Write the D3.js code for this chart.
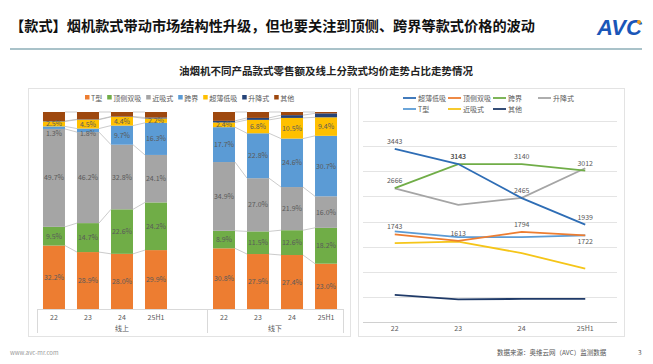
<!DOCTYPE html>
<html><head><meta charset="utf-8">
<script src="https://cdnjs.cloudflare.com/ajax/libs/d3/7.8.5/d3.min.js"></script>
<style>
body{margin:0;background:#fff;}
svg{display:block;font-family:"Noto Sans CJK SC","Noto Sans",sans-serif;}
</style></head><body>
<svg id="chart" width="653" height="364"></svg>
<script>
// categories
const years = ["22","23","24","25H1"];
const channels = ["线上","线下"];
const styles = ["T型","顶侧双吸","近吸式","跨界","超薄低吸","升降式","其他"];

// 零售额占比 (%) : 线上 22..25H1, then 线下 22..25H1
const shareT       = [32.2,28.9,28.0,29.9, 30.8,27.9,27.4,23.0];
const shareTopSide = [9.5,14.7,22.6,24.2, 8.9,11.5,12.6,18.2];
const shareNear    = [49.7,46.2,32.8,24.1, 34.9,27.0,21.9,16.0];
const shareCross   = [1.3,1.8,9.7,16.3, 17.7,22.8,24.6,30.7];
const shareThin    = [2.5,4.5,4.4,2.2, 2.4,6.8,10.5,9.4];
const shareLift    = [0.2,0.2,0.2,0.5, 0.8,1.0,1.4,2.0];
const shareOther   = [4.6,3.7,2.3,2.8, 4.5,3.0,1.6,0.7];

// 线上分款式均价 (元)
const priceThin    = [3443,3143,2465,1939];
const priceTopSide = [1743,1613,1794,1722];
const priceCross   = [2666,3143,3140,3012];
const priceLift    = [2660,2330,2470,3060];
const priceT       = [1805,1688,1690,1725];
const priceNear    = [1569,1600,1371,1062];
const priceOther   = [540,450,460,460];

const barColors = ["#ED7D31","#70AD47","#A5A5A5","#5B9BD5","#FFC000","#264478","#9E480E"];

const svg = d3.select("#chart");
const txt = "#595959";

// ---------- header ----------
svg.append("text").attr("x",10).attr("y",31)
  .attr("font-size",14.2).attr("font-weight","bold").attr("fill","#111")
  .text("【款式】烟机款式带动市场结构性升级，但也要关注到顶侧、跨界等款式价格的波动");
svg.append("text").attr("x",597).attr("y",35)
  .attr("font-size",22).attr("font-weight","bold").attr("font-style","italic")
  .attr("fill","#1A56B8").attr("font-family","Liberation Sans, sans-serif").text("AVC");
svg.append("circle").attr("cx",639).attr("cy",22).attr("r",2).attr("fill","#F2A01B");
svg.append("line").attr("x1",10).attr("x2",642).attr("y1",49).attr("y2",49)
  .attr("stroke","#A9C2C9").attr("stroke-width",2);
svg.append("text").attr("x",326).attr("y",75).attr("text-anchor","middle")
  .attr("font-size",10.5).attr("font-weight","bold").attr("fill","#222")
  .text("油烟机不同产品款式零售额及线上分款式均价走势占比走势情况");

// panel frames
svg.append("rect").attr("x",28.5).attr("y",88.5).attr("width",322).attr("height",248)
  .attr("fill","none").attr("stroke","#E3E3E3");
svg.append("rect").attr("x",358.5).attr("y",88.5).attr("width",266).attr("height",248)
  .attr("fill","none").attr("stroke","#E3E3E3");

// ---------- left: stacked bars ----------
const shares = [shareT,shareTopSide,shareNear,shareCross,shareThin,shareLift,shareOther];
const slots = [];
channels.forEach((c,ci) => {
  years.forEach(y => slots.push(c + "|" + y));
  if (ci === 0) slots.push(c + "|gap");
});
const barKeys = slots.filter(s => !s.endsWith("gap"));
const rows = barKeys.map((k,i) => {
  const r = {key:k};
  styles.forEach((s,si) => r[s] = shares[si][i]);
  return r;
});
const stacked = d3.stack().keys(styles)(rows);

const xb = d3.scaleBand().domain(slots).range([37,343]).paddingInner(0.353).paddingOuter(0.176);
const yb = d3.scaleLinear().domain([0,100]).range([309,112]);

const gBars = svg.append("g");
stacked.forEach((layer,li) => {
  gBars.selectAll(null).data(layer).join("rect")
    .attr("x", d => xb(d.data.key))
    .attr("width", xb.bandwidth())
    .attr("y", d => yb(d[1]))
    .attr("height", d => yb(d[0]) - yb(d[1]))
    .attr("fill", barColors[li]);
});

// series lines between neighbouring bars of one channel
stacked.forEach(layer => {
  layer.forEach((d,i) => {
    const n = layer[i+1];
    if (!n || d.data.key.split("|")[0] !== n.data.key.split("|")[0]) return;
    gBars.append("line")
      .attr("x1", xb(d.data.key) + xb.bandwidth()).attr("y1", yb(d[1]))
      .attr("x2", xb(n.data.key)).attr("y2", yb(n[1]))
      .attr("stroke","#B4B4B4").attr("stroke-width",0.7);
  });
});

// segment labels; a thin 跨界 slice is pushed below the 超薄低吸 label
const labelY = (layerIdx, i) => {
  const d = stacked[layerIdx][i];
  return (yb(d[0]) + yb(d[1]))/2 + 2.5;
};
stacked.slice(0,5).forEach((layer,li) => {
  gBars.selectAll(null).data(layer).join("text")
    .attr("x", d => xb(d.data.key) + xb.bandwidth()/2)
    .attr("y", (d,i) => li === 3 ? Math.max(labelY(3,i), labelY(4,i) + 9.5) : labelY(li,i))
    .attr("text-anchor","middle").attr("font-size",7).attr("fill","#5a5a5a")
    .text(d => (d[1]-d[0]).toFixed(1) + "%");
});

// multi-level category axis
const gAx = svg.append("g").attr("font-size",7).attr("fill",txt);
gAx.append("line").attr("x1",37).attr("x2",343).attr("y1",309.5).attr("y2",309.5).attr("stroke","#D9D9D9");
[37,207,343].forEach(x => gAx.append("line").attr("x1",x+0.5).attr("x2",x+0.5)
  .attr("y1",309).attr("y2",333).attr("stroke","#D9D9D9"));
gAx.selectAll(null).data(barKeys).join("text")
  .attr("x", k => xb(k) + xb.bandwidth()/2).attr("y",320)
  .attr("text-anchor","middle").attr("fill",txt).text(k => k.split("|")[1]);
channels.forEach(c => {
  const inGroup = slots.filter(s => s.startsWith(c));
  const x0 = xb(inGroup[0]) - xb.step()*xb.paddingInner()/2;
  const x1 = xb(inGroup[inGroup.length-1]) + xb.bandwidth() + xb.step()*xb.paddingInner()/2;
  gAx.append("text").attr("x",(x0+x1)/2).attr("y",331).attr("text-anchor","middle")
    .attr("fill",txt).text(c);
});

// bar legend
const gLegB = svg.append("g").attr("font-size",7).attr("fill",txt);
let lx = 85;
styles.forEach((s,i) => {
  gLegB.append("rect").attr("x",lx).attr("y",95).attr("width",4.5).attr("height",4.5).attr("fill",barColors[i]);
  const t = gLegB.append("text").attr("x",lx+6).attr("y",100.5).text(s);
  lx += 6 + t.node().getComputedTextLength() + 5;
});

// ---------- right: lines ----------
const lineSeries = [
  {name:"超薄低吸", values:priceThin,    color:"#2E6DB5", labels:true},
  {name:"顶侧双吸", values:priceTopSide, color:"#ED7D31", labels:true},
  {name:"跨界",     values:priceCross,   color:"#70AD47", labels:true},
  {name:"升降式",   values:priceLift,    color:"#A5A5A5", labels:false},
  {name:"T型",      values:priceT,       color:"#5B9BD5", labels:false},
  {name:"近吸式",   values:priceNear,    color:"#F5C518", labels:false},
  {name:"其他",     values:priceOther,   color:"#1F3A68", labels:false}
];

const xl = d3.scaleBand().domain(years).range([363,617]);
const yl = d3.scaleLinear().domain([0,4000]).range([322,121]);
const cx = y => xl(y) + xl.bandwidth()/2;

const gGrid = svg.append("g");
gGrid.selectAll(null).data(d3.range(0,4001,500)).join("line")
  .attr("x1",363).attr("x2",617)
  .attr("y1", d => Math.round(yl(d))+0.5).attr("y2", d => Math.round(yl(d))+0.5)
  .attr("stroke", d => d === 0 ? "#D0D0D0" : "#E4E4E4");

svg.append("g").attr("font-size",7).attr("fill",txt)
  .selectAll(null).data(years).join("text")
  .attr("x", cx).attr("y",331).attr("text-anchor","middle").text(d => d);

const line = d3.line().x((d,i) => cx(years[i])).y(d => yl(d));
const drawOrder = [6,5,4,3,1,2,0];
drawOrder.forEach(i => {
  const s = lineSeries[i];
  svg.append("path").attr("d", line(s.values)).attr("fill","none")
    .attr("stroke", s.color).attr("stroke-width",1.8);
});

const gLab = svg.append("g").attr("font-size",7).attr("fill",txt).attr("text-anchor","middle");
lineSeries.filter(s => s.labels).forEach(s => {
  s.values.forEach((v,i) => {
    const below = s.name === "顶侧双吸" && i === 3;
    gLab.append("text").attr("x", cx(years[i]))
      .attr("y", below ? yl(v) + 9 : yl(v) - 5).text(v);
  });
});

// line legend
const gLegL = svg.append("g").attr("font-size",7).attr("fill",txt);
lineSeries.forEach((s,i) => {
  const col = i < 4 ? i : i - 4, row = i < 4 ? 0 : 1;
  const x = 403 + col*45, y = 98 + row*11;
  gLegL.append("line").attr("x1",x).attr("x2",x+13).attr("y1",y).attr("y2",y)
    .attr("stroke",s.color).attr("stroke-width",1.8);
  gLegL.append("text").attr("x",x+15).attr("y",y+2.5).text(s.name);
});

// ---------- footer ----------
svg.append("text").attr("x",10).attr("y",355).attr("font-size",6).attr("fill","#9a9a9a").text("www.avc-mr.com");
svg.append("text").attr("x",497).attr("y",355).attr("font-size",6.5).attr("fill","#555").text("数据来源：奥维云网（AVC）监测数据");
svg.append("text").attr("x",638).attr("y",355).attr("font-size",6.5).attr("fill","#555").text("3");
</script>
</body></html>
